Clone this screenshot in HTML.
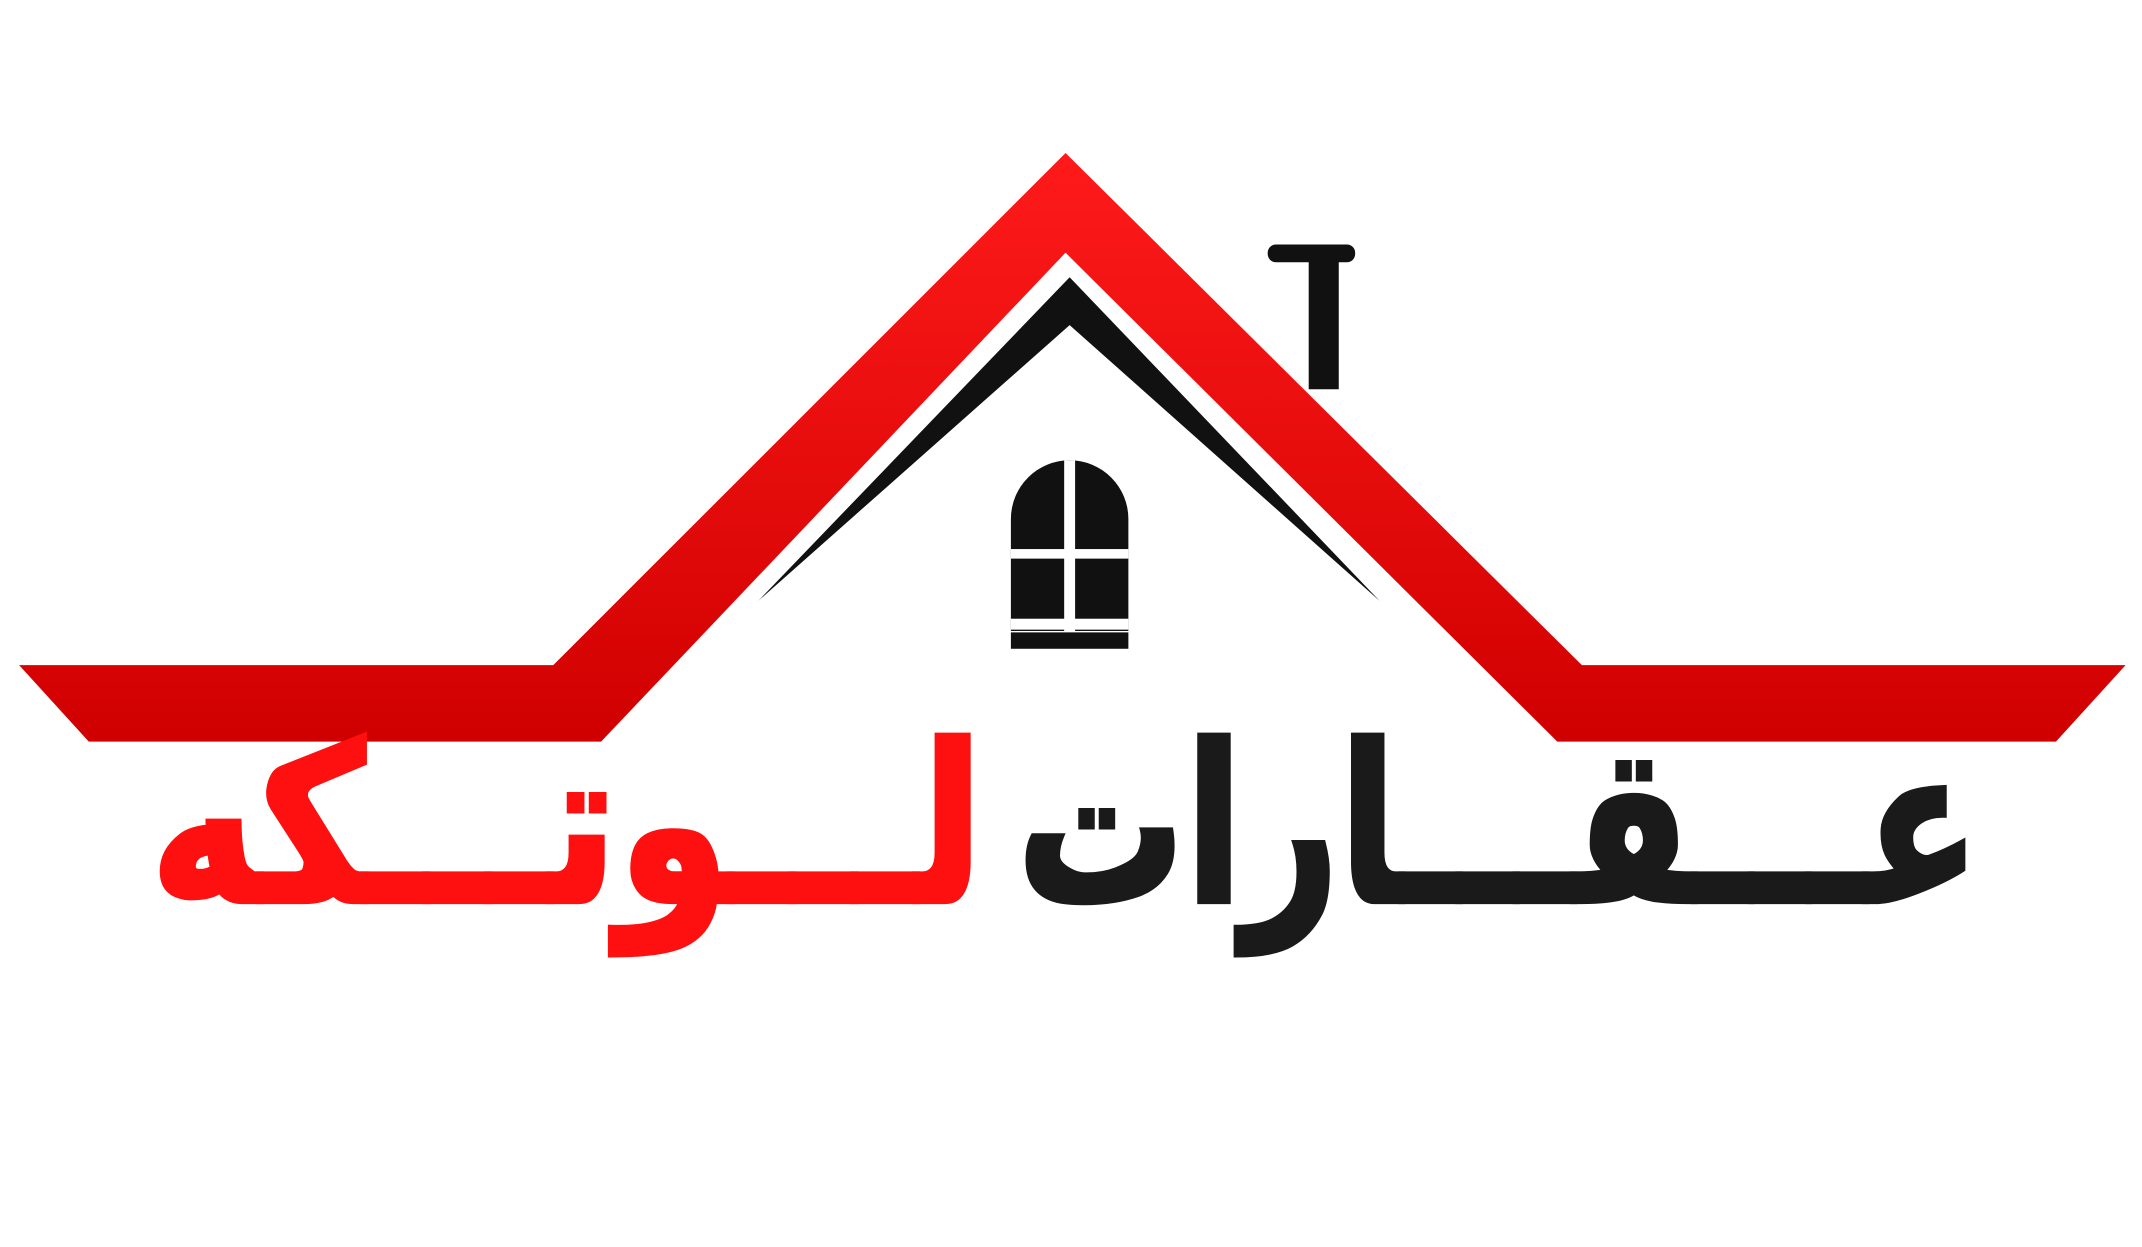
<!DOCTYPE html>
<html><head><meta charset="utf-8"><style>
html,body{margin:0;padding:0;background:#fff;}
svg{display:block;}
</style></head><body>
<svg width="2142" height="1247" viewBox="0 0 1568 913" preserveAspectRatio="none" xmlns="http://www.w3.org/2000/svg">
<defs>
<linearGradient id="r" x1="0" y1="0" x2="0" y2="1">
<stop offset="0" stop-color="#ff1a1a"/><stop offset="1" stop-color="#d00000"/>
</linearGradient>
</defs>
<rect width="1568" height="913" fill="#fff"/>
<polygon fill="url(#r)" points="14,487 405,487 780,112 1158,487 1556,487 1505,543 1140,543 780,185 440,543 65,543"/>
<polygon fill="#111" points="555,440 783,203 1010,440 783,238"/>
<rect x="928" y="179" width="64" height="13" rx="6" fill="#111"/>
<rect x="958" y="190" width="22" height="95" fill="#111"/>
<path d="M740,462 L740,380 A43,43 0 0 1 826,380 L826,462 Z" fill="#111"/>
<rect x="779" y="337" width="8" height="128" fill="#fff"/>
<rect x="740" y="402" width="86" height="7" fill="#fff"/>
<rect x="740" y="453" width="86" height="8" fill="#fff"/>
<rect x="740" y="463" width="86" height="12" fill="#111"/>
<text x="1097" y="660" text-anchor="middle" direction="rtl" font-family="DejaVu Sans, sans-serif" font-weight="bold" font-size="160" fill="#1a1a1a" stroke="#1a1a1a" stroke-width="4" textLength="705" lengthAdjust="spacingAndGlyphs">عـــقـــارات</text>
<text x="415" y="660" text-anchor="middle" direction="rtl" font-family="DejaVu Sans, sans-serif" font-weight="bold" font-size="160" fill="#ff1010" stroke="#ff1010" stroke-width="4" textLength="610" lengthAdjust="spacingAndGlyphs">لـــوتـــكه</text>
</svg>
</body></html>
